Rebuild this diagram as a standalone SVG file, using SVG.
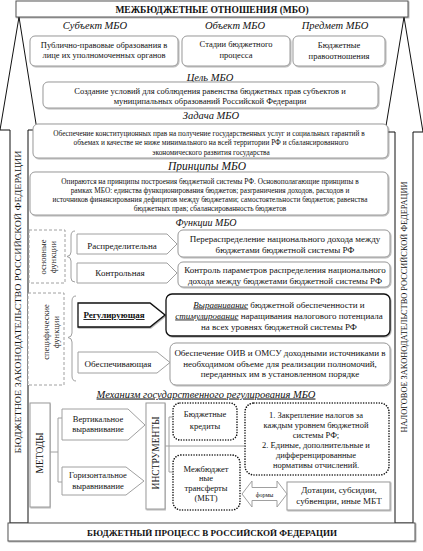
<svg xmlns="http://www.w3.org/2000/svg" width="423" height="551" viewBox="0 0 423 551" font-family="'Liberation Serif', 'DejaVu Serif', serif">
<defs>
<filter id="sh" x="-5%" y="-5%" width="110%" height="120%">
<feDropShadow dx="0.8" dy="0.8" stdDeviation="0.6" flood-color="#000" flood-opacity="0.35"/>
</filter>
</defs>
<style>
text{font-family:'Liberation Serif','DejaVu Serif',serif;fill:#111}
.c{text-anchor:middle}
.s85{font-size:8.5px}
.s9{font-size:9px}
.s75{font-size:7.3px}
.lb{font-size:10.5px;font-style:italic}
.bx{fill:#fff;stroke:#9a9a9a;stroke-width:1;filter:url(#sh)}
.bk{fill:#fff;stroke:#111;stroke-width:1.3;filter:url(#sh)}
.dash{fill:#fff;stroke:#a0a0a0;stroke-width:1;stroke-dasharray:3 2}
.dot{fill:#fff;stroke:#111;stroke-width:1.6;stroke-dasharray:0.01 2.6;stroke-linecap:round}
.pg{fill:#fff;stroke:#a0a0a0;stroke-width:1}
.frame{fill:#fff;stroke:#111;stroke-width:1}
.ln{fill:none;stroke:#a0a0a0;stroke-width:1}
.hd{font-weight:bold;font-size:9.5px}
</style>

<g id="left-arrow">
<polygon class="frame" points="19,17 0,130 10,130 10,523 28,523 28,130 37,130"/>
<text class="s9 c" transform="translate(21,302) rotate(-90)" textLength="303" lengthAdjust="spacingAndGlyphs">БЮДЖЕТНОЕ ЗАКОНОДАТЕЛЬСТВО РОССИЙСКОЙ ФЕДЕРАЦИИ</text>
</g>
<g id="right-arrow">
<polygon class="frame" points="404,17 385,132 395,132 395,523 413,523 413,132 423,132"/>
<text class="s9 c" transform="translate(407,307) rotate(-90)" textLength="251" lengthAdjust="spacingAndGlyphs">НАЛОГОВОЕ ЗАКОНОДАТЕЛЬСТВО РОССИЙСКОЙ ФЕДЕРАЦИИ</text>
</g>

<g id="title">
<rect x="16" y="1" width="392" height="16" fill="#fff" stroke="#555" stroke-width="1" filter="url(#sh)"/>
<text class="hd c" x="212" y="12.5">МЕЖБЮДЖЕТНЫЕ ОТНОШЕНИЯ (МБО)</text>
</g>

<g id="labels">
<text class="lb c" x="95" y="29">Субъект МБО</text>
<text class="lb c" x="235" y="29">Объект МБО</text>
<text class="lb c" x="335" y="29">Предмет МБО</text>
<text class="lb c" x="210" y="80.5">Цель МБО</text>
<text class="lb c" x="211" y="118.5">Задача МБО</text>
<text class="c" x="207" y="170" style="font-size:11.5px;font-style:italic">Принципы МБО</text>
<text class="c" x="206" y="225.5" style="font-size:10px;font-style:italic">Функции МБО</text>
<text class="lb c" x="206" y="397.5" text-decoration="underline">Механизм государственного регулирования МБО</text>
</g>

<g id="subject">
<rect class="bx" x="30" y="36" width="148" height="30" rx="5"/>
<text class="s85 c" x="104" y="48">Публично-правовые образования в</text>
<text class="s85 c" x="104" y="58">лице их уполномоченных органов</text>
</g>
<g id="object">
<rect class="bx" x="182" y="36" width="108" height="30" rx="5"/>
<text class="s85 c" x="236" y="47">Стадии бюджетного</text>
<text class="s85 c" x="236" y="57.5">процесса</text>
</g>
<g id="predmet">
<rect class="bx" x="293" y="36" width="92" height="30" rx="5"/>
<text class="s85 c" x="339" y="48">Бюджетные</text>
<text class="s85 c" x="339" y="59">правоотношения</text>
</g>
<g id="goal">
<rect class="bx" x="43" y="82" width="335" height="26" rx="5"/>
<text class="s85 c" x="210" y="94">Создание условий для соблюдения равенства бюджетных прав субъектов и</text>
<text class="s85 c" x="210" y="103.5">муниципальных образований Российской Федерации</text>
</g>
<g id="task">
<rect class="bx" x="33" y="124" width="355" height="34" rx="5"/>
<text class="s75 c" x="209" y="135.5">Обеспечение конституционных прав на получение государственных услуг и социальных гарантий в</text>
<text class="s75 c" x="211" y="145">объемах и качестве не ниже минимального на всей территории РФ и сбалансированного</text>
<text class="s75 c" x="211" y="154.5">экономического развития государства</text>
</g>
<g id="principles">
<rect class="bx" x="30" y="172" width="358" height="43" rx="5"/>
<text class="s75 c" x="210" y="183.5">Опираются на принципы построения бюджетной системы РФ. Основополагающие принципы в</text>
<text class="s75 c" x="210" y="192.5">рамках МБО:  единства функционирования бюджетов; разграничения доходов, расходов и</text>
<text class="s75 c" x="210" y="201.5">источников финансирования дефицитов между бюджетами; самостоятельности бюджетов; равенства</text>
<text class="s75 c" x="210" y="210.5">бюджетных прав; сбалансированность бюджетов</text>
</g>

<g id="basic-functions">
<rect class="dash" x="29" y="230" width="36" height="53"/>
<text class="s85 c" transform="translate(45.5,257) rotate(-90)">основные</text>
<text class="s85 c" transform="translate(55.5,257) rotate(-90)">функции</text>
</g>
<g id="specific-functions">
<rect class="dash" x="28" y="293" width="36" height="92"/>
<text class="s85 c" transform="translate(48.5,332) rotate(-90)">специфические</text>
<text class="s85 c" transform="translate(58.5,332) rotate(-90)">функции</text>
</g>

<g id="f-raspr">
<polygon class="pg" points="77,234 167,234 177,244 167,254 77,254"/>
<text class="s9 c" x="122" y="249">Распределительна</text>
</g>
<g id="f-kontr">
<polygon class="pg" points="77,263 167,263 177,273 167,283 77,283"/>
<text class="s9 c" x="120" y="276">Контрольная</text>
</g>
<g id="f-reg">
<polygon class="bk" points="78,303 150,303 165,315 150,327 78,327"/>
<text class="s9 c" x="114" y="318" font-weight="bold" text-decoration="underline">Регулирующая</text>
</g>
<g id="f-obesp">
<polygon class="pg" points="78,352 157,352 170,362.5 157,373 78,373"/>
<text class="s9 c" x="118" y="366.5">Обеспечивающая</text>
</g>

<g id="d-raspr">
<rect class="bx" x="178" y="230" width="212" height="27" rx="5"/>
<text class="s9 c" x="285" y="242">Перераспределение национального дохода между</text>
<text class="s9 c" x="285" y="253">бюджетами бюджетной системы РФ</text>
</g>
<g id="d-kontr">
<rect class="bx" x="178" y="262" width="212" height="25" rx="5"/>
<text class="s9 c" x="285" y="273">Контроль параметров распределения национального</text>
<text class="s9 c" x="285" y="283.5">дохода между бюджетами бюджетной системы РФ</text>
</g>
<g id="d-reg">
<rect class="bk" x="166" y="294" width="224" height="42" rx="6"/>
<text class="s9 c" x="279" y="307.5"><tspan font-style="italic" text-decoration="underline">Выравнивание</tspan> бюджетной обеспеченности и</text>
<text class="s9 c" x="279" y="318.5"><tspan font-style="italic" text-decoration="underline">стимулирование</tspan> наращивания налогового потенциала</text>
<text class="s9 c" x="279" y="329.5">на всех уровнях бюджетной системы РФ</text>
</g>
<g id="d-obesp">
<rect class="bx" x="170" y="343" width="220" height="42" rx="6"/>
<text class="s9 c" x="280" y="356">Обеспечение ОИВ и ОМСУ доходными источниками в</text>
<text class="s9 c" x="280" y="366.5">необходимом объеме для реализации полномочий,</text>
<text class="s9 c" x="280" y="377">переданных им в установленном порядке</text>
</g>

<g id="methods">
<rect class="bx" x="30" y="403" width="20" height="104"/>
<text class="s9 c" transform="translate(43,453) rotate(-90)" style="font-size:9.5px">МЕТОДЫ</text>
</g>
<g id="m-vert">
<polygon class="pg" points="62,409 128,409 145,425 128,440 62,440"/>
<text class="s85 c" x="98" y="421.5">Вертикальное</text>
<text class="s85 c" x="98" y="432">выравнивание</text>
</g>
<g id="m-hor">
<polygon class="pg" points="62,467 126,467 144,481 126,495 62,495"/>
<text class="s85 c" x="98" y="477.5">Горизонтальное</text>
<text class="s85 c" x="98" y="488.5">выравнивание</text>
</g>
<g id="instruments">
<rect class="bx" x="146" y="403" width="19" height="106"/>
<text class="c" transform="translate(159,453) rotate(-90)" style="font-size:9.5px">ИНСТРУМЕНТЫ</text>
</g>
<g id="credits">
<rect class="dot" x="173" y="403" width="64" height="37" rx="7"/>
<text class="s85 c" x="205" y="417">Бюджетные</text>
<text class="s85 c" x="205" y="428.5">кредиты</text>
</g>
<g id="taxes">
<rect class="dot" x="245" y="403" width="144" height="72" rx="9"/>
<text class="s85 c" x="316" y="418">1. Закрепление налогов за</text>
<text class="s85 c" x="316" y="427.5">каждым уровнем бюджетной</text>
<text class="s85 c" x="316" y="438">системы РФ;</text>
<text class="s85 c" x="316" y="448">2. Единые, дополнительные и</text>
<text class="s85 c" x="316" y="458">дифференцированные</text>
<text class="s85 c" x="316" y="467.5">нормативы отчислений.</text>
</g>
<g id="mbt">
<rect class="dot" x="173" y="455" width="67" height="55" rx="8"/>
<text class="s85 c" x="206" y="472">Межбюджет</text>
<text class="s85 c" x="206" y="481">ные</text>
<text class="s85 c" x="206" y="491">трансферты</text>
<text class="s85 c" x="206" y="500.5">(МБТ)</text>
</g>
<g id="forms-box">
<rect class="bx" x="287" y="482" width="103" height="28"/>
<text class="s9 c" x="339" y="492.5">Дотации, субсидии,</text>
<text class="s9 c" x="339" y="504">субвенции, иные МБТ</text>
</g>

<g id="connectors">
<path class="ln" d="M75,231 Q71,231 71,236 L71,252 Q71,256 67,256.5 Q71,257 71,261 L71,278 Q71,282 75,282"/>
<path class="ln" d="M76,296 Q72,296 72,301 L72,333 Q72,337 68,337.5 Q72,338 72,342 L72,376 Q72,381 76,381"/>
<path class="ln" d="M50,452 L58,452 M58,418 L58,482 M58,418 L62,418 M58,482 L62,482"/>
<path class="ln" d="M165,446 L245,446 M169,417 L169,472 M169,417 L173,417 M169,472 L173,472"/>
<polygon class="pg" points="242,494 252,481 252,487.5 277,487.5 277,481 287,494 277,507 277,500.5 252,500.5 252,507"/>
<text class="c" x="264.5" y="496.5" style="font-size:6px">формы</text>
</g>

<g id="bottom">
<rect x="8" y="523" width="407" height="18" fill="#fff" stroke="#555" stroke-width="1" filter="url(#sh)"/>
<text class="c" x="212" y="536" style="font-weight:bold;font-size:9px">БЮДЖЕТНЫЙ ПРОЦЕСС В РОССИЙСКОЙ ФЕДЕРАЦИИ</text>
</g>
</svg>
